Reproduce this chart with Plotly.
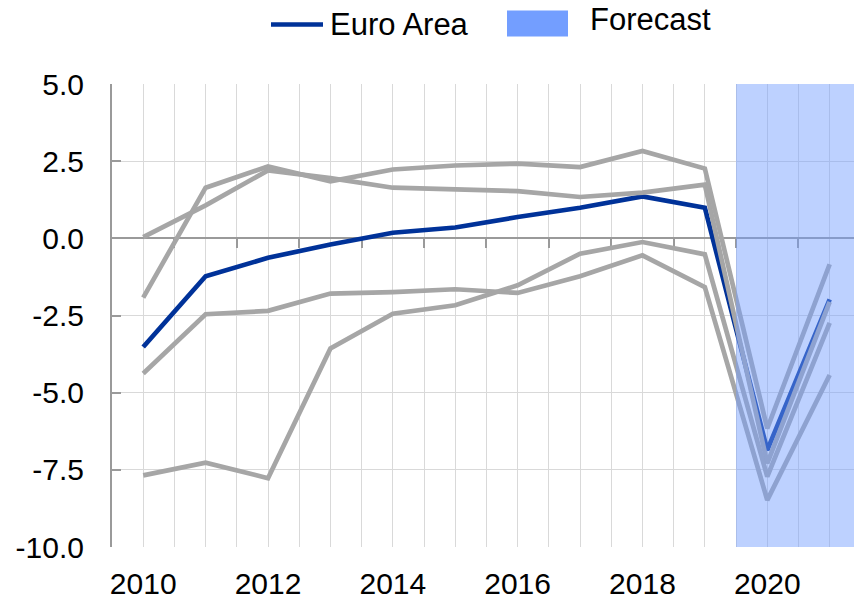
import plotly.graph_objects as go

years = [2010, 2011, 2012, 2013, 2014, 2015, 2016, 2017, 2018, 2019, 2020, 2021]
euro_area = [-3.52, -1.23, -0.63, -0.20, 0.18, 0.35, 0.69, 0.99, 1.36, 0.99, -6.86, -1.98]
country_a = [0.04, 1.07, 2.20, 1.95, 1.64, 1.59, 1.53, 1.34, 1.48, 1.74, -7.29, -2.06]
country_b = [-1.92, 1.64, 2.33, 1.85, 2.23, 2.36, 2.42, 2.31, 2.83, 2.26, -6.16, -0.84]
country_c = [-4.38, -2.46, -2.35, -1.79, -1.74, -1.65, -1.77, -1.23, -0.55, -1.58, -8.48, -4.43]
country_d = [-7.68, -7.27, -7.77, -3.57, -2.44, -2.17, -1.52, -0.50, -0.12, -0.52, -7.72, -2.74]

forecast_start = 2019.5
x_range = [2009.5, 2021.39]
y_range = [-10, 5]
x_tick_vals = [2010, 2012, 2014, 2016, 2018, 2020]
x_tick_text = ["2010", "2012", "2014", "2016", "2018", "2020"]
y_tick_vals = [5, 2.5, 0, -2.5, -5, -7.5, -10]
y_tick_text = ["5.0", "2.5", "0.0", "-2.5", "-5.0", "-7.5", "-10.0"]
half_years = [2010.5, 2011.5, 2012.5, 2013.5, 2014.5, 2015.5, 2016.5, 2017.5, 2018.5, 2019.5, 2020.5]

BLUE = "#003299"
GREY = "#a6a6a6"
FONT = "Liberation Sans, Arial, sans-serif"

fig = go.Figure()
fig.add_trace(go.Scatter(x=years, y=euro_area, mode="lines", name="Euro Area",
                         line=dict(color=BLUE, width=4.7), showlegend=False))
for name, vals in [("A", country_a), ("B", country_b), ("C", country_c), ("D", country_d)]:
    fig.add_trace(go.Scatter(x=years, y=vals, mode="lines", name=name,
                             line=dict(color=GREY, width=4.7), showlegend=False))
# helper trace so the zero-line axis is drawn
fig.add_trace(go.Scatter(x=[None], y=[None], xaxis="x2", yaxis="y", showlegend=False, hoverinfo="skip"))

# forecast shading
fig.add_shape(type="rect", xref="x", yref="y", x0=forecast_start, x1=x_range[1],
              y0=y_range[0], y1=y_range[1], fillcolor="#739eff", opacity=0.47,
              line=dict(width=0), layer="above")

# manual legend
L = 112; W = 742; B = 547; H = 463.5
def px(x):
    return (x - L) / W
def py(y):
    return (B - y) / H

fig.add_shape(type="line", xref="paper", yref="paper", x0=px(271), x1=px(323),
              y0=py(24), y1=py(24), line=dict(color=BLUE, width=4.5))
fig.add_annotation(xref="paper", yref="paper", x=px(328), y=py(24), text="Euro Area",
                   showarrow=False, xanchor="left", yanchor="middle",
                   font=dict(family=FONT, size=31, color="black"))
fig.add_shape(type="rect", xref="paper", yref="paper", x0=px(507), x1=px(568),
              y0=py(36), y1=py(10), fillcolor="#739eff", line=dict(width=0))
fig.add_annotation(xref="paper", yref="paper", x=px(588), y=py(19), text="Forecast",
                   showarrow=False, xanchor="left", yanchor="middle",
                   font=dict(family=FONT, size=31, color="black"))

fig.update_layout(
    width=854, height=601,
    margin=dict(l=112, r=0, t=83.5, b=54),
    paper_bgcolor="white", plot_bgcolor="white",
    font=dict(family=FONT, size=30, color="black"),
    xaxis=dict(range=x_range, tickvals=x_tick_vals, ticktext=x_tick_text, automargin=False,
               showgrid=True, gridcolor="#d9d9d9", gridwidth=1,
               minor=dict(tick0=2009.5, dtick=0.5, showgrid=True, gridcolor="#d9d9d9", gridwidth=1),
               showline=False, zeroline=False, ticks="", ticklabelstandoff=16,
               tickfont=dict(family=FONT, size=30, color="black")),
    xaxis2=dict(range=x_range, overlaying="x", anchor="free", position=2 / 3, side="bottom",
                showline=True, linecolor="#9a9a9a", linewidth=2, automargin=False,
                ticks="outside", ticklen=9, tickwidth=2, tickcolor="#9a9a9a",
                tickvals=half_years, showticklabels=False, showgrid=False, zeroline=False,
                layer="below traces"),
    yaxis=dict(range=y_range, tickvals=y_tick_vals, ticktext=y_tick_text, automargin=False,
               showgrid=True, gridcolor="#d9d9d9", gridwidth=1, zeroline=False,
               showline=True, linecolor="#9a9a9a", linewidth=2,
               ticks="inside", ticklen=9, tickwidth=2, tickcolor="#9a9a9a",
               ticklabelstandoff=20,
               tickfont=dict(family=FONT, size=30, color="black")),
)

fig.write_html("out.html", config={"displayModeBar": False},
               post_script="document.body.style.margin='0';document.body.style.overflow='hidden';")
